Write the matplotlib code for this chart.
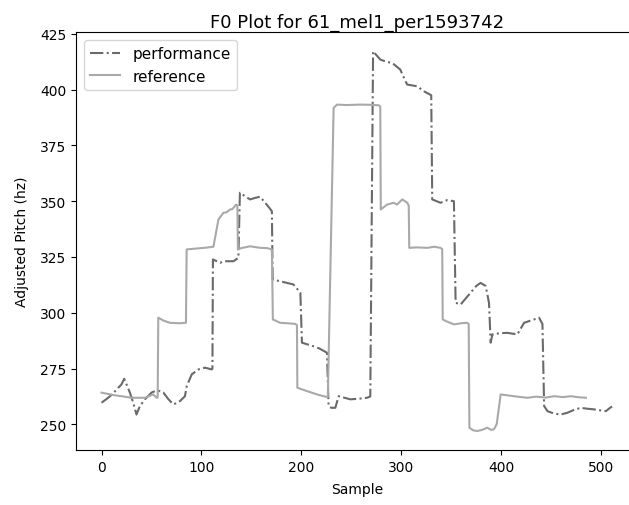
import matplotlib
matplotlib.use("Agg")
import matplotlib.pyplot as plt

title = "F0 Plot for 61_mel1_per1593742"
x_label = "Sample"
y_label = "Adjusted Pitch (hz)"

perf_x = [0, 4, 8, 12, 15, 20, 22.7, 25, 28.4, 31.7, 35, 38.4, 43.4, 50, 53.5, 58.5, 62, 67, 72,
          78.5, 83.5, 85.3, 90.3, 97, 103.6, 110.3, 111, 111.5, 118.7, 122, 132, 137, 138.5, 143.7,
          148.7, 153.8, 158.8, 163.8, 168, 170.5, 171.3, 180, 192, 199, 200.6, 212, 218, 225.6,
          227.3, 230, 234, 237.3, 249, 258, 265.8, 269, 271.8, 279, 285, 290.9, 299, 303, 305.9,
          316, 322.6, 330, 331, 339.3, 346, 352.7, 354.4, 359.4, 369.4, 375, 379.4, 384.5, 387.8,
          389.5, 391.2, 398, 406.2, 416.2, 422.9, 432.9, 437.9, 441.3, 443, 446.3, 453, 459.7,
          466.4, 473, 479.7, 486, 493, 500, 504.8, 509, 511]
perf_y = [259.7, 261, 262.4, 264, 265.6, 267.9, 270.4, 267.9, 264.2, 259.7, 254.4, 258.2, 261.2,
          264.2, 264.9, 264.9, 264.2, 261.2, 258.9, 260.4, 262.6, 267.1, 272.4, 274.6, 275.4, 274.6,
          275, 323.9, 322.4, 323.1, 323.1, 324.6, 353.8, 352.2, 350.8, 351.5, 352, 349.3, 347,
          345.5, 314.9, 314, 312.7, 309, 286.6, 285, 284, 282.1, 258.2, 257.4, 257.4, 262.6, 261.2,
          261.5, 261.9, 262.5, 417.2, 413.5, 412.5, 412, 409, 405, 402.3, 401.5, 399.3, 397.5,
          350.8, 349.3, 350.5, 350, 304.5, 303.7, 309, 312, 313.4, 312, 304.5, 286.6, 290.3,
          290.8, 291, 290.3, 295.5, 297, 297.8, 295, 258.2, 255.9, 254.8, 254.4, 255.2, 256.5,
          257.4, 257, 256.7, 256.2, 255.9, 257.4, 258]

ref_x = [0, 13.3, 20, 30, 43.4, 51.8, 55.2, 56.2, 56.8, 62, 68.5, 78, 84.5, 85.2, 95, 105, 112,
         117, 122, 125, 128.7, 131, 134.7, 136, 136.5, 140, 148.7, 158.8, 165.5, 170.5, 171.5,
         178.8, 186, 193.9, 195.6, 196, 205.6, 215, 222.3, 226.5, 232.3, 235.7, 245, 259, 270,
         277.4, 279, 279.5, 285.8, 292.5, 295.8, 301, 306, 307.5, 308, 315, 326, 333, 339.3, 341,
         341.5, 346, 352.7, 360, 366, 367.5, 368.2, 372, 376, 381, 386, 390, 392.8, 395.5, 399.5,
         406, 412.8, 420, 426.3, 435, 445, 453, 462, 469.7, 478, 484.8]
ref_y = [264.2, 263, 262.6, 261.9, 261.9, 263.4, 261.9, 262, 297.8, 296.5, 295.5, 295.3, 295.5,
         328.4, 328.8, 329.2, 329.6, 341.8, 344.8, 345, 346.3, 346.5, 348.5, 348, 328.4, 329,
         329.8, 329.1, 329, 328.4, 297, 295.5, 295.3, 295, 294.5, 266.4, 264.9, 263.5, 262.6,
         262.2, 391.8, 393.3, 393.1, 393.3, 393.2, 393, 392.5, 346.3, 348.5, 349.3, 348.5, 350.8,
         349.3, 348, 329.1, 329.3, 329.1, 329.6, 329.1, 328.5, 297, 296, 294.8, 295.3, 295.5, 295,
         248.5, 247.3, 247, 247.5, 248.5, 247.5, 247.8, 250, 263.4, 263, 262.6, 262.2, 261.9,
         262.4, 262, 262.6, 262.2, 262.6, 262.1, 261.9]

fig = plt.figure(figsize=(6.29, 5.06), dpi=100)
W, H = 629, 506
ax = fig.add_axes([76 / W, (H - 451) / H, (637.6 - 76) / W, (451 - 33.3) / H])

ax.plot(perf_x, perf_y, linestyle='-.', color='#6a6a6a', linewidth=1.5, label='performance')
ax.plot(ref_x, ref_y, linestyle='-', color='#a9a9a9', linewidth=1.5, label='reference')

ax.set_title(title, fontsize=13, pad=4)
ax.set_xlabel(x_label, labelpad=6)
ax.set_ylabel(y_label, labelpad=8)
ax.legend(loc='upper left', fontsize=11)

fig.savefig("out.png", dpi=100)
